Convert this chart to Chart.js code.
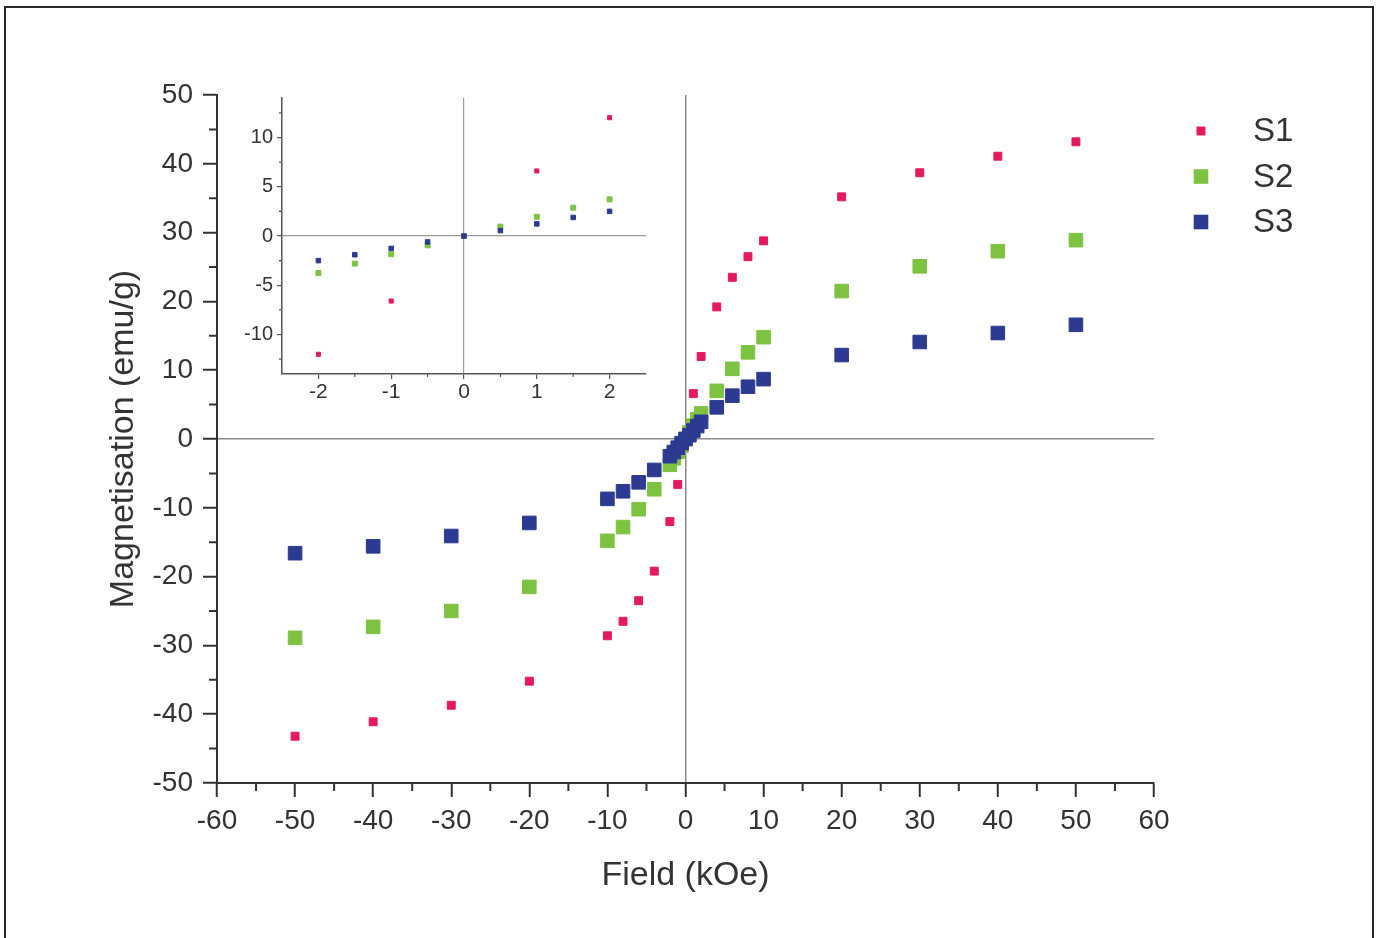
<!DOCTYPE html>
<html>
<head>
<meta charset="utf-8">
<title>Magnetisation vs Field</title>
<script src="https://cdn.jsdelivr.net/npm/chart.js@4.4.0/dist/chart.umd.min.js"></script>
<style>
    html, body { margin: 0; padding: 0; background: #fff; }
    #wrap { position: relative; width: 1381px; height: 938px; overflow: hidden; }
    #main { position: absolute; left: 0; top: 0; width: 1381px; height: 938px; }
    #inset { position: absolute; left: 200px; top: 80px; width: 470px; height: 330px; }
</style>
</head>
<body>
<div id="wrap">
    <canvas id="main" width="1381" height="938"></canvas>
    <canvas id="inset" width="470" height="330"></canvas>
</div>
<script>
// Applied field (kOe) and magnetisation (emu/g) per sample
const fieldS1 = [-50, -40, -30, -20, -10, -8, -6, -4, -2, -1, 1, 2, 4, 6, 8, 10, 20, 30, 40, 50];
const magS1 = [-43.2, -41.1, -38.7, -35.2, -28.6, -26.5, -23.5, -19.2, -12.0, -6.6,
               6.6, 12.0, 19.2, 23.5, 26.5, 28.8, 35.2, 38.7, 41.1, 43.2];

const fieldS23 = [-50, -40, -30, -20, -10, -8, -6, -4, -2, -1.5, -1, -0.5, 0,
                  0.5, 1, 1.5, 2, 4, 6, 8, 10, 20, 30, 40, 50];
const magS2 = [-28.9, -27.3, -25.0, -21.5, -14.8, -12.8, -10.2, -7.3, -3.75, -2.8, -1.85, -0.95, 0,
               0.95, 1.95, 2.87, 3.72, 7.0, 10.2, 12.6, 14.8, 21.5, 25.1, 27.3, 28.9];
const magS3 = [-16.6, -15.6, -14.1, -12.2, -8.7, -7.6, -6.3, -4.5, -2.5, -1.9, -1.26, -0.6, 0,
               0.55, 1.23, 1.88, 2.5, 4.6, 6.3, 7.6, 8.7, 12.2, 14.1, 15.4, 16.6];

const seriesNames = ['S1', 'S2', 'S3'];
const seriesColors = ['#e5195e', '#7ec242', '#2d3a92'];

// labelled ticks of the low-field inset
const insetXTicks = [-2, -1, 0, 1, 2];
const insetYTicks = [-10, -5, 0, 5, 10];

const FONT = "'Liberation Sans', Arial, Helvetica, sans-serif";
const INK = '#333';

function toPoints(xs, ys, limit = Infinity) {
    return xs.map((x, i) => ({ x, y: ys[i] })).filter(p => Math.abs(p.x) <= limit);
}

const zeroLine = color => ctx => (ctx.tick && ctx.tick.value === 0 ? color : 'rgba(0,0,0,0)');

// white page with a dark frame around it
const framePlugin = {
    id: 'frame',
    beforeDraw(chart, args, opts) {
        const { ctx, width, height } = chart;
        ctx.save();
        ctx.fillStyle = '#fff';
        ctx.fillRect(0, 0, width, height);
        ctx.strokeStyle = opts.color;
        ctx.lineWidth = opts.width;
        ctx.strokeRect(opts.left, opts.top, opts.right - opts.left, height + 20);
        ctx.restore();
    }
};

// short unlabelled ticks between the major ones
const minorTicks = {
    id: 'minorTicks',
    afterDraw(chart, args, opts) {
        const { ctx } = chart;
        const xs = chart.scales.x, ys = chart.scales.y;
        const isMajor = (v, m) => Math.abs(v / m - Math.round(v / m)) < 1e-6;
        ctx.save();
        ctx.strokeStyle = opts.color;
        ctx.lineWidth = opts.width;
        ctx.beginPath();
        for (let k = Math.ceil(xs.min / opts.xStep); k * opts.xStep <= xs.max + 1e-9; k++) {
            const v = k * opts.xStep;
            if (isMajor(v, opts.xMajor) || v <= xs.min || v >= xs.max) continue;
            const px = xs.getPixelForValue(v);
            ctx.moveTo(px, xs.top);
            ctx.lineTo(px, xs.top + opts.len);
        }
        for (let k = Math.ceil(ys.min / opts.yStep); k * opts.yStep <= ys.max + 1e-9; k++) {
            const v = k * opts.yStep;
            if (isMajor(v, opts.yMajor) || v <= ys.min || v >= ys.max) continue;
            const py = ys.getPixelForValue(v);
            ctx.moveTo(ys.right, py);
            ctx.lineTo(ys.right - opts.len, py);
        }
        ctx.stroke();
        ctx.restore();
    }
};

// legend keeping each series' own marker size
const pointLegend = {
    id: 'pointLegend',
    afterDraw(chart, args, opts) {
        const { ctx } = chart;
        ctx.save();
        ctx.font = `${opts.fontSize}px ${FONT}`;
        ctx.textBaseline = 'middle';
        ctx.textAlign = 'left';
        chart.data.datasets
            .slice()
            .sort((a, b) => seriesNames.indexOf(a.label) - seriesNames.indexOf(b.label))
            .forEach((ds, i) => {
                const y = opts.y + i * opts.rowHeight;
                const side = 2 * ds.pointRadius * Math.SQRT1_2 + ds.pointBorderWidth;
                ctx.fillStyle = ds.backgroundColor;
                ctx.fillRect(opts.x - side / 2, y - side / 2, side, side);
                ctx.fillStyle = INK;
                ctx.fillText(ds.label, opts.x + opts.gap, y + 1);
            });
        ctx.restore();
    }
};

function makeDatasets(radii, limit) {
    const values = [[fieldS1, magS1], [fieldS23, magS2], [fieldS23, magS3]];
    return seriesNames.map((name, i) => ({
        label: name,
        data: toPoints(values[i][0], values[i][1], limit),
        backgroundColor: seriesColors[i],
        borderColor: seriesColors[i],
        pointStyle: 'rect',
        pointRadius: radii[i],
        pointBorderWidth: 1,
        showLine: false,
        order: 2 - i
    }));
}

new Chart(document.getElementById('main'), {
    type: 'scatter',
    data: { datasets: makeDatasets([5.6, 9.6, 9.6]) },
    options: {
        responsive: false,
        animation: false,
        events: [],
        layout: { padding: { left: 0, right: 227, top: 95, bottom: 0 } },
        plugins: {
            legend: { display: false },
            tooltip: { enabled: false },
            frame: { color: '#2a2a2a', width: 2, left: 5, top: 7, right: 1373 },
            minorTicks: { xStep: 5, xMajor: 10, yStep: 5, yMajor: 10, len: 8, color: INK, width: 2 },
            pointLegend: { x: 1201, y: 131, rowHeight: 45.5, gap: 52, fontSize: 33 }
        },
        scales: {
            x: {
                type: 'linear',
                position: 'bottom',
                min: -60,
                max: 60,
                ticks: { stepSize: 10, padding: 7, color: INK, font: { family: FONT, size: 28 } },
                grid: { color: zeroLine('#8a8a8a'), lineWidth: 1.5, tickColor: INK, tickWidth: 2, tickLength: 14 },
                border: { color: INK, width: 2 },
                title: {
                    display: true,
                    text: 'Field (kOe)',
                    color: INK,
                    font: { family: FONT, size: 34 },
                    padding: { top: 0, bottom: 42 }
                },
                afterFit(scale) { scale.height = 155; }
            },
            y: {
                type: 'linear',
                position: 'left',
                min: -50,
                max: 50,
                ticks: { stepSize: 10, padding: 10, color: INK, font: { family: FONT, size: 28 } },
                grid: { color: zeroLine('#8a8a8a'), lineWidth: 1.5, tickColor: INK, tickWidth: 2, tickLength: 14 },
                border: { color: INK, width: 2 },
                title: {
                    display: true,
                    text: 'Magnetisation (emu/g)',
                    color: INK,
                    font: { family: FONT, size: 34 },
                    padding: { top: 103, bottom: 0 }
                },
                afterFit(scale) { scale.width = 217; }
            }
        }
    },
    plugins: [framePlugin, minorTicks, pointLegend]
});

// low-field close-up, |H| <= 2 kOe
new Chart(document.getElementById('inset'), {
    type: 'scatter',
    data: { datasets: makeDatasets([2.9, 3.5, 3.2], 2) },
    options: {
        responsive: false,
        animation: false,
        events: [],
        layout: { padding: { left: 0, right: 24, top: 18, bottom: 0 } },
        plugins: {
            legend: { display: false },
            tooltip: { enabled: false },
            minorTicks: { xStep: 0.5, xMajor: 1, yStep: 2.5, yMajor: 5, len: 3, color: '#555', width: 1.2 }
        },
        scales: {
            x: {
                type: 'linear',
                min: -2.5,
                max: 2.5,
                afterBuildTicks(scale) { scale.ticks = insetXTicks.map(value => ({ value })); },
                ticks: { padding: 1, color: INK, font: { family: FONT, size: 21 } },
                grid: { color: zeroLine('#9a9a9a'), lineWidth: 1.2, tickColor: '#555', tickWidth: 1.2, tickLength: 5 },
                border: { color: '#555', width: 1.5 },
                afterFit(scale) { scale.height = 36; }
            },
            y: {
                type: 'linear',
                min: -14,
                max: 14,
                afterBuildTicks(scale) { scale.ticks = insetYTicks.map(value => ({ value })); },
                ticks: { padding: 4, color: INK, font: { family: FONT, size: 20 } },
                grid: { color: zeroLine('#9a9a9a'), lineWidth: 1.2, tickColor: '#555', tickWidth: 1.2, tickLength: 5 },
                border: { color: '#555', width: 1.5 },
                afterFit(scale) { scale.width = 82; }
            }
        }
    },
    plugins: [minorTicks]
});
</script>
</body>
</html>
